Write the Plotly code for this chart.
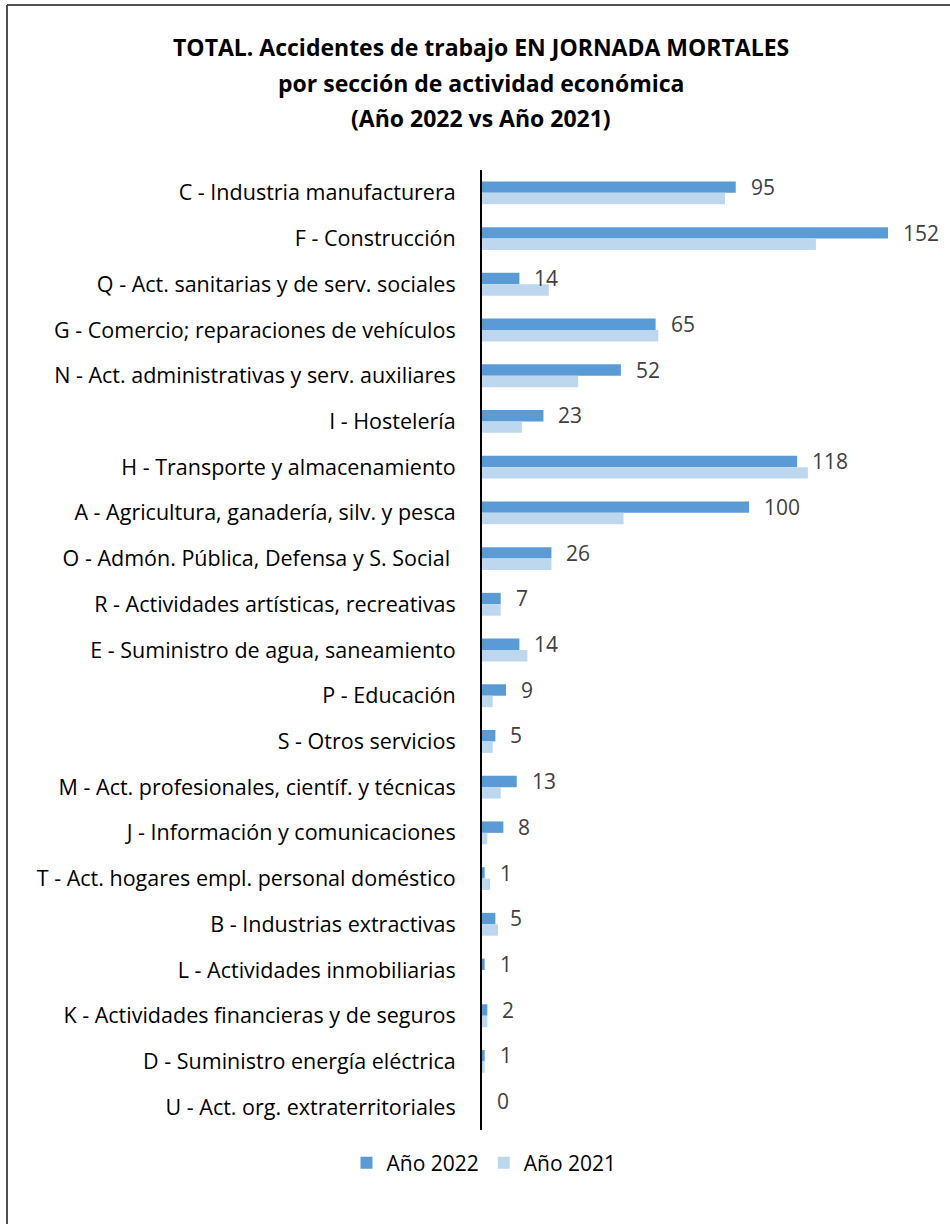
import plotly.graph_objects as go

categories = [
    "C - Industria manufacturera",
    "F - Construcción",
    "Q - Act. sanitarias y de serv. sociales",
    "G - Comercio; reparaciones de vehículos",
    "N - Act. administrativas y serv. auxiliares",
    "I - Hostelería",
    "H - Transporte y almacenamiento",
    "A - Agricultura, ganadería, silv. y pesca",
    "O - Admón. Pública, Defensa y S. Social ",
    "R - Actividades artísticas, recreativas",
    "E - Suministro de agua, saneamiento",
    "P - Educación",
    "S - Otros servicios",
    "M - Act. profesionales, científ. y técnicas",
    "J - Información y comunicaciones",
    "T - Act. hogares empl. personal doméstico",
    "B - Industrias extractivas",
    "L - Actividades inmobiliarias",
    "K - Actividades financieras y de seguros",
    "D - Suministro energía eléctrica",
    "U - Act. org. extraterritoriales",
]
values_2022 = [95, 152, 14, 65, 52, 23, 118, 100, 26, 7, 14, 9, 5, 13, 8, 1, 5, 1, 2, 1, 0]
values_2021 = [91, 125, 25, 66, 36, 15, 122, 53, 26, 7, 17, 4, 4, 7, 2, 3, 6, 0, 2, 1, 0]
series_names = ["Año 2022", "Año 2021"]
colors = ["#5B9BD5", "#BDD7EE"]

FONT = "Open Sans"
W, H = 950, 1224
ML, MR, MT, MB = 482, 50, 170, 94
PW = W - ML - MR
PH = H - MT - MB

fig = go.Figure()
fig.add_trace(go.Bar(y=categories, x=values_2022, orientation="h", name=series_names[0],
                     marker=dict(color=colors[0], line=dict(width=0))))
fig.add_trace(go.Bar(y=categories, x=values_2021, orientation="h", name=series_names[1],
                     marker=dict(color=colors[1], line=dict(width=0))))

annotations = []
for c, v in zip(categories, values_2022):
    annotations.append(dict(x=v, y=c, xref="x", yref="y", text=str(v), showarrow=False,
                            xanchor="left", yanchor="middle", xshift=13, yshift=6,
                            font=dict(family=FONT, size=21, color="#404040")))

title_lines = ["TOTAL. Accidentes de trabajo EN JORNADA MORTALES",
               "por sección de actividad económica",
               "(Año 2022 vs Año 2021)"]
title_y_px = [47, 83, 118]
for t, ypx in zip(title_lines, title_y_px):
    annotations.append(dict(x=(481 - ML) / PW, y=(H - MB - ypx) / PH, xref="paper", yref="paper",
                            text="<b>" + t + "</b>", showarrow=False, xanchor="center", yanchor="middle",
                            font=dict(family=FONT, size=23, color="#000000")))

bx = (7 - ML) / PW
by = (H - MB - 5) / PH
shapes = [
    dict(type="line", xref="paper", yref="paper", x0=bx, x1=bx, y0=by, y1=-0.2,
         line=dict(color="#505050", width=2)),
    dict(type="line", xref="paper", yref="paper", x0=bx, x1=1.3, y0=by, y1=by,
         line=dict(color="#505050", width=2)),
]

fig.update_layout(
    width=W, height=H,
    margin=dict(l=ML, r=MR, t=MT, b=MB),
    paper_bgcolor="white", plot_bgcolor="white",
    barmode="group", bargap=0.5, bargroupgap=0,
    showlegend=True,
    legend=dict(orientation="h", x=(484 - ML) / PW, xanchor="center", y=(H - MB - 1163) / PH,
                yanchor="middle", font=dict(family=FONT, size=21, color="#000000"),
                traceorder="normal"),
    annotations=annotations,
    shapes=shapes,
    font=dict(family=FONT, size=21, color="#000000"),
)
fig.update_xaxes(range=[0, PW / 2.671], showgrid=False, zeroline=False, showticklabels=False,
                 showline=False)
fig.update_yaxes(autorange="reversed", showline=True, linecolor="#000000", linewidth=2,
                 ticks="", ticklabelstandoff=20, showgrid=False,
                 tickfont=dict(family=FONT, size=21.5, color="#000000"))

fig.write_html("out.html", config={"displayModeBar": False},
               post_script="document.body.style.margin='0px';")
